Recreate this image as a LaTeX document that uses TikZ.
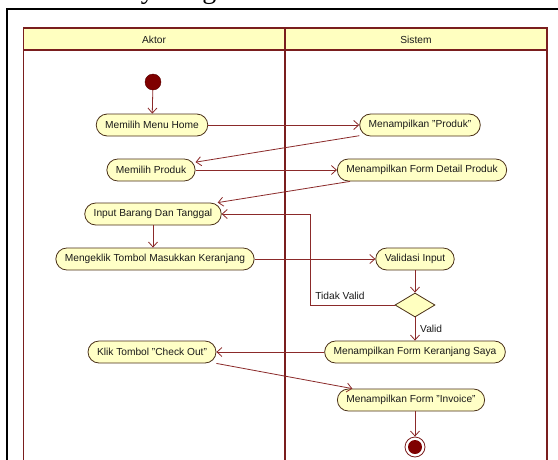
\documentclass[tikz,border=0pt]{standalone}
\usepackage{fontspec}
\setmainfont{Liberation Sans}
\newfontfamily\titlefont{Liberation Serif}
\usetikzlibrary{arrows.meta,shapes.geometric}
\definecolor{lane}{HTML}{7A1E1E}
\definecolor{hdr}{HTML}{FFFFC0}
\definecolor{actfill}{HTML}{FFFFC6}
\definecolor{actdraw}{HTML}{4A3018}
\definecolor{flow}{HTML}{8B2A2A}
\definecolor{startc}{HTML}{7F0000}
\definecolor{txt}{HTML}{1A1A1A}
\tikzset{
  act/.style={draw=actdraw, fill=actfill, rounded corners=11pt, minimum height=22pt,
    inner xsep=9pt, inner ysep=0pt, line width=0.8pt, text=txt,
    font=\fontsize{10.2}{12}\selectfont},
  flowline/.style={draw=flow, line width=0.8pt, -{Straight Barb[length=5pt,width=9pt]}},
  lanebox/.style={draw=lane, line width=1.6pt},
  lbl/.style={text=txt, font=\fontsize{10.2}{12}\selectfont, inner sep=1pt},
  decbox/.style={diamond, draw=actdraw, fill=hdr, minimum width=40pt, minimum height=24pt, inner sep=0pt, line width=0.8pt},
  startnode/.style={circle, fill=startc, draw=startc!70!black, minimum size=16pt, inner sep=0pt},
  endnode/.style={circle, fill=white, draw=lane, line width=0.8pt, minimum size=20pt, inner sep=0pt}
}
\begin{document}
\begin{tikzpicture}[x=1pt,y=-1pt]
\useasboundingbox (0,0) rectangle (558,459);
\clip (0,0) rectangle (558,459);
\fill[white] (0,0) rectangle (558,459);
% cut-off title
\node[anchor=base west, inner sep=0pt, font=\titlefont\fontsize{28}{30}\selectfont] (title) at (63,-2) {Activity Diagram};
% outer black frame
\draw[black, line width=1.8pt] (7,470) -- (7,9) -- (570,9);
% swimlanes
\fill[hdr] (23.5,28) rectangle (547,50);
\draw[lanebox] (23.5,480) -- (23.5,28) -- (547,28) -- (547,480);
\draw[lanebox] (23.5,50) -- (547,50);
\draw[lanebox] (285,28) -- (285,480);
\node[lbl] (aktor) at (154,40) {Aktor};
\node[lbl] (sistem) at (416,40) {Sistem};
% nodes
\node[startnode] (start) at (153,82) {};
\node[act] (home) at (152,125) {Memilih Menu Home};
\node[act] (produk) at (420,125) {Menampilkan "Produk"};
\node[act] (pilih) at (151,170) {Memilih Produk};
\node[act] (detail) at (422,170) {Menampilkan Form Detail Produk};
\node[act] (input) at (153,214) {Input Barang Dan Tanggal};
\node[act] (klik) at (155,259) {Mengeklik Tombol Masukkan Keranjang};
\node[act] (valid) at (415,259) {Validasi Input};
\node[decbox] (dec) at (415,305) {};
\node[act] (keranjang) at (415,352) {Menampilkan Form Keranjang Saya};
\node[act] (checkout) at (152,352) {Klik Tombol "Check Out"};
\node[act] (invoice) at (411,400) {Menampilkan Form "Invoice"};
\node[endnode] (end) at (415,447) {};
\fill[startc] (end.center) circle (7pt);
\coordinate (loop) at (310,305);
% flows
\draw[flowline] (start) -- (home);
\draw[flowline] (home) -- (produk);
\draw[flowline] (produk.190) -- (pilih.10);
\draw[flowline] (pilih) -- (detail);
\draw[flowline] (detail.189) -- (input.10);
\draw[flowline] (input.south -| start) -- (klik.north -| start);
\draw[flowline] (klik) -- (valid);
\draw[flowline] (valid) -- (dec);
\draw[flowline] (dec.west) -- (loop) |- (input.east);
\node[lbl, anchor=south] (tv) at (340,301) {Tidak Valid};
\draw[flowline] (dec) -- (keranjang);
\node[lbl, anchor=west] (vl) at (419,329) {Valid};
\draw[flowline] (keranjang) -- (checkout);
\draw[flowline] (checkout.south east) -- (invoice.169);
\draw[flowline] (invoice.south -| end) -- (end);
\end{tikzpicture}
\end{document}
